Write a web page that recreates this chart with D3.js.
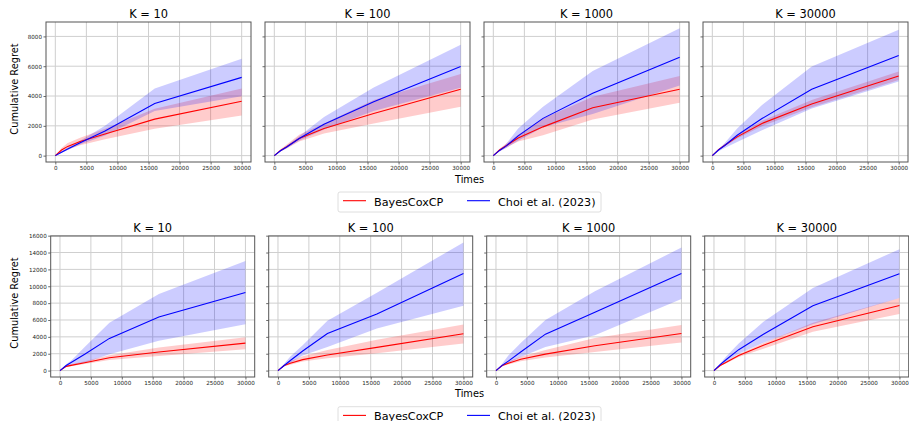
<!DOCTYPE html>
<html>
<head>
<meta charset="utf-8">
<script src="https://cdn.jsdelivr.net/npm/d3@7"></script>
<style>
  body { margin: 0; background: #fff; }
  svg { display: block; font-family: "DejaVu Sans", sans-serif; }
</style>
</head>
<body>
<svg width="909" height="421"></svg>
<script>
var svg = d3.select("svg");

// shared values
var times = [0, 1000, 2000, 4000, 8000, 16000, 30000];
var kLabels = ["K = 10", "K = 100", "K = 1000", "K = 30000"];
var xTicks = [0, 5000, 10000, 15000, 20000, 25000, 30000];
var yTicksTop = [0, 2000, 4000, 6000, 8000];
var yTicksBottom = [0, 2000, 4000, 6000, 8000, 10000, 12000, 14000, 16000];

// top row, one sub-array per K
var bayesMeanTop = [
  [0, 380, 620, 950, 1450, 2450, 3650],
  [0, 350, 600, 1150, 1820, 2830, 4450],
  [0, 380, 650, 1180, 1930, 3210, 4450],
  [0, 400, 700, 1260, 2160, 3460, 5350]
];
var bayesLowTop = [
  [0, 220, 420, 700, 1100, 1800, 2700],
  [0, 280, 480, 950, 1480, 2150, 3280],
  [0, 300, 520, 950, 1370, 2430, 3550],
  [0, 360, 630, 1150, 1980, 3240, 5080]
];
var bayesHighTop = [
  [0, 520, 850, 1200, 1800, 3150, 4500],
  [0, 430, 750, 1400, 2150, 3730, 5480],
  [0, 460, 780, 1400, 2490, 3950, 5350],
  [0, 440, 770, 1370, 2340, 3730, 5640]
];
var choiMeanTop = [
  [0, 230, 450, 870, 1650, 3500, 5250],
  [0, 330, 580, 1150, 2110, 3620, 5980],
  [0, 350, 620, 1330, 2500, 4180, 6600],
  [0, 380, 680, 1370, 2490, 4450, 6720]
];
var choiLowTop = [
  [0, 180, 370, 750, 1350, 3000, 3980],
  [0, 280, 500, 1000, 1750, 3000, 4550],
  [0, 280, 500, 1000, 1900, 2800, 4700],
  [0, 300, 520, 920, 1700, 3170, 4970]
];
var choiHighTop = [
  [0, 290, 540, 1000, 2000, 4500, 6500],
  [0, 380, 680, 1300, 2600, 4580, 7440],
  [0, 420, 760, 1820, 3280, 5680, 8540],
  [0, 450, 850, 1820, 3390, 5980, 8450]
];

// bottom row
var bayesMeanBottom = [
  [0, 500, 650, 930, 1530, 2210, 3260],
  [0, 600, 880, 1300, 1850, 2750, 4360],
  [0, 600, 880, 1350, 1950, 2950, 4400],
  [0, 600, 1000, 1800, 3000, 5200, 7720]
];
var bayesLowBottom = [
  [0, 400, 530, 780, 1250, 1730, 2530],
  [0, 500, 700, 1070, 1450, 2050, 3200],
  [0, 500, 720, 1120, 1550, 2200, 3320],
  [0, 520, 880, 1600, 2600, 4600, 6720]
];
var bayesHighBottom = [
  [0, 700, 1100, 1650, 2450, 3650, 5480],
  [0, 700, 1100, 1700, 2450, 3650, 5480],
  [0, 700, 1080, 1650, 2450, 3850, 5400],
  [0, 680, 1120, 1950, 3280, 5680, 8600]
];
// first K of the bottom row has a narrower red band
bayesHighBottom[0] = [0, 600, 780, 1100, 1810, 2730, 3940];
var choiMeanBottom = [
  [0, 600, 1050, 1930, 3820, 6350, 9250],
  [0, 600, 1200, 2320, 4400, 6720, 11520],
  [0, 620, 1120, 2200, 4320, 6920, 11520],
  [0, 700, 1320, 2480, 4320, 7680, 11480]
];
var choiLowBottom = [
  [0, 450, 720, 925, 1930, 3540, 5510],
  [0, 480, 900, 1800, 2800, 5000, 7680],
  [0, 480, 860, 1600, 2800, 4200, 8480],
  [0, 560, 1050, 2000, 3300, 5500, 8600]
];
var choiHighBottom = [
  [0, 750, 1330, 2810, 5670, 9090, 12990],
  [0, 800, 1680, 3000, 5920, 9220, 15200],
  [0, 800, 1800, 3280, 6000, 9400, 14600],
  [0, 850, 1700, 3200, 5800, 9800, 14400]
];

var rows = [
  { top: 22, height: 140, left: 46, step: 219, width: 205, yTicks: yTicksTop,
    bm: bayesMeanTop, bl: bayesLowTop, bh: bayesHighTop,
    cm: choiMeanTop, cl: choiLowTop, ch: choiHighTop,
    titleY: 18.3, ylabelY: 89, xlabelY: 182.7, legendY: 192 },
  { top: 236, height: 141, left: 50.7, step: 218, width: 204, yTicks: yTicksBottom,
    bm: bayesMeanBottom, bl: bayesLowBottom, bh: bayesHighBottom,
    cm: choiMeanBottom, cl: choiLowBottom, ch: choiHighBottom,
    titleY: 232.3, ylabelY: 303, xlabelY: 396.7, legendY: 406.7 }
];

var fmt = d3.format("d");

rows.forEach(function(row, r) {
  // shared y limits for the row, with a 5% margin like matplotlib
  var all = d3.merge([d3.merge(row.bl), d3.merge(row.bh), d3.merge(row.cl), d3.merge(row.ch)]);
  var lo = d3.min(all), hi = d3.max(all), pad = (hi - lo) * 0.05;

  kLabels.forEach(function(label, k) {
    var x0 = row.left + k * row.step;
    var x = d3.scaleLinear().domain([-1500, 31500]).range([x0, x0 + row.width]);
    var y = d3.scaleLinear().domain([lo - pad, hi + pad]).range([row.top + row.height, row.top]);

    var g = svg.append("g");

    // grid
    g.selectAll(".gx").data(xTicks).enter().append("line")
      .attr("x1", function(d) { return x(d); }).attr("x2", function(d) { return x(d); })
      .attr("y1", row.top).attr("y2", row.top + row.height)
      .style("stroke", "#cfcfcf").style("stroke-width", "1px");
    g.selectAll(".gy").data(row.yTicks).enter().append("line")
      .attr("x1", x0).attr("x2", x0 + row.width)
      .attr("y1", function(d) { return y(d); }).attr("y2", function(d) { return y(d); })
      .style("stroke", "#cfcfcf").style("stroke-width", "1px");

    var pts = times.map(function(t, i) {
      return { t: t, bm: row.bm[k][i], bl: row.bl[k][i], bh: row.bh[k][i],
               cm: row.cm[k][i], cl: row.cl[k][i], ch: row.ch[k][i] };
    });

    var band = function(lk, hk) {
      return d3.area().x(function(d) { return x(d.t); })
        .y0(function(d) { return y(d[lk]); }).y1(function(d) { return y(d[hk]); });
    };
    var line = function(key) {
      return d3.line().x(function(d) { return x(d.t); }).y(function(d) { return y(d[key]); });
    };

    g.append("path").datum(pts).attr("d", band("bl", "bh"))
      .style("fill", "red").style("fill-opacity", 0.2);
    g.append("path").datum(pts).attr("d", band("cl", "ch"))
      .style("fill", "blue").style("fill-opacity", 0.2);
    g.append("path").datum(pts).attr("d", line("bm"))
      .style("fill", "none").style("stroke", "red").style("stroke-width", "1.1px");
    g.append("path").datum(pts).attr("d", line("cm"))
      .style("fill", "none").style("stroke", "blue").style("stroke-width", "1.1px");

    // axes
    var xa = g.append("g").attr("transform", "translate(0," + (row.top + row.height) + ")")
      .call(d3.axisBottom(x).tickValues(xTicks).tickFormat(fmt).tickSize(2.5).tickPadding(1.5));
    var ya = g.append("g").attr("transform", "translate(" + x0 + ",0)")
      .call(d3.axisLeft(y).tickValues(row.yTicks).tickSize(2.5).tickPadding(1.5)
        .tickFormat(k === 0 ? fmt : function() { return ""; }));
    [xa, ya].forEach(function(a) {
      a.select(".domain").remove();
      a.selectAll("line").style("stroke", "#444").style("stroke-width", "0.8px");
      a.selectAll("text").style("font-size", "5.6px").style("fill", "#222")
        .style("font-family", "DejaVu Sans");
    });

    g.append("rect").attr("x", x0).attr("y", row.top)
      .attr("width", row.width).attr("height", row.height)
      .style("fill", "none").style("stroke", "#555").style("stroke-width", "1px");

    g.append("text").attr("x", x0 + row.width / 2).attr("y", row.titleY)
      .attr("text-anchor", "middle").style("font-size", "11.4px").text(label);
  });

  svg.append("text")
    .attr("transform", "translate(17.5," + row.ylabelY + ") rotate(-90)")
    .attr("text-anchor", "middle").style("font-size", "9.8px").text("Cumulative Regret");

  svg.append("text").attr("x", 469.5).attr("y", row.xlabelY)
    .attr("text-anchor", "middle").style("font-size", "9.8px").text("Times");

  // legend (the lower one runs off the bottom edge, as in the reference)
  var lg = svg.append("g").attr("transform", "translate(338," + row.legendY + ")");
  lg.append("rect").attr("width", 263).attr("height", 20).attr("rx", 2)
    .style("fill", "#fff").style("stroke", "#d6d6d6").style("stroke-width", "0.8px");
  var items = [{ name: "BayesCoxCP", color: "red", x: 5 }, { name: "Choi et al. (2023)", color: "blue", x: 129 }];
  items.forEach(function(it) {
    lg.append("line").attr("x1", it.x).attr("x2", it.x + 23).attr("y1", 8.7).attr("y2", 8.7)
      .style("stroke", it.color).style("stroke-width", "1.1px");
    lg.append("text").attr("x", it.x + 31).attr("y", 13.7)
      .style("font-size", "11.2px").text(it.name);
  });
});
</script>
</body>
</html>
